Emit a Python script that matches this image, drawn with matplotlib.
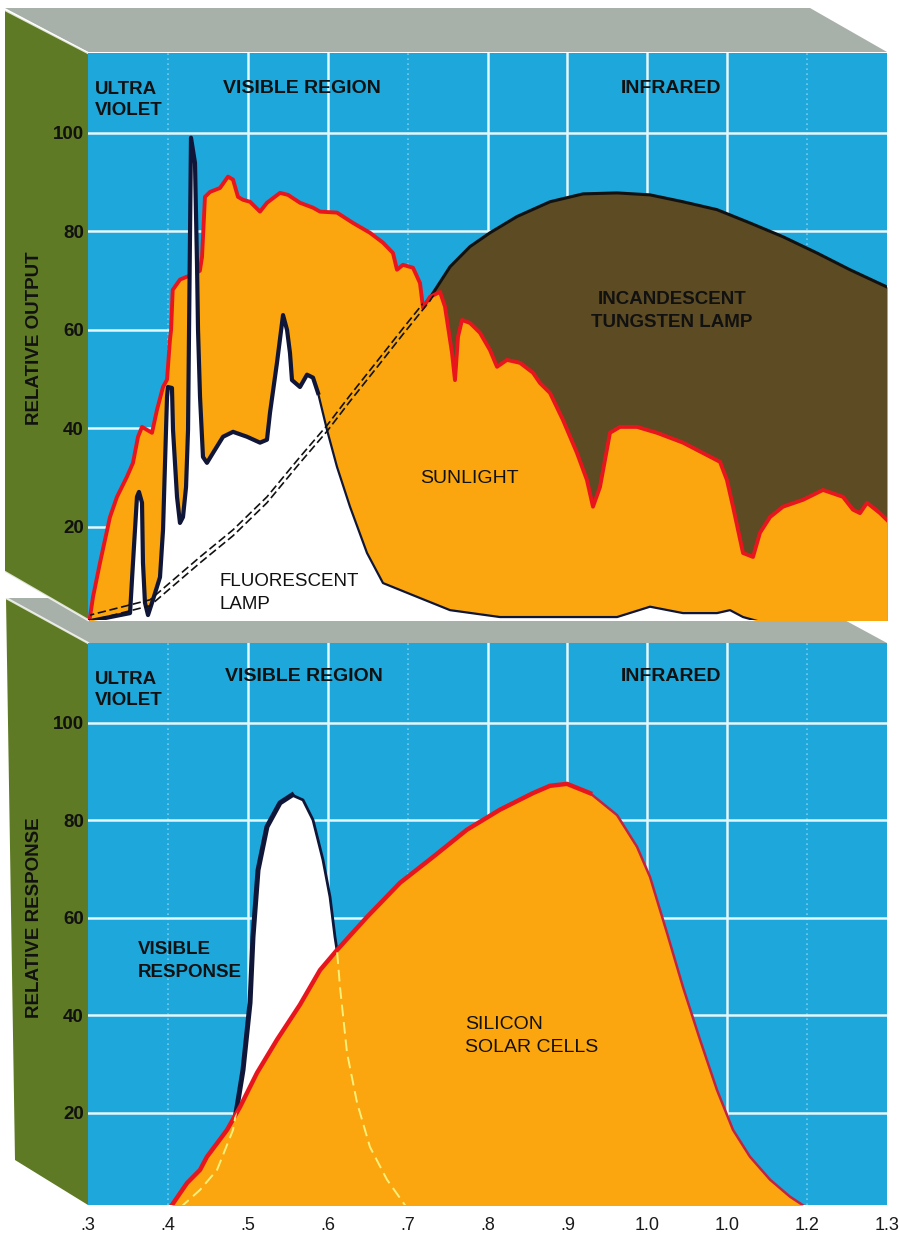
import numpy as np
import matplotlib.pyplot as plt
from matplotlib.patches import Polygon

plt.rcParams['font.family'] = ['Liberation Sans', 'DejaVu Sans']

# --- eixos ---
x_ticks = [0.3, 0.4, 0.5, 0.6, 0.7, 0.8, 0.9, 1.0, 1.1, 1.2, 1.3]
x_tick_labels = ['.3', '.4', '.5', '.6', '.7', '.8', '.9', '1.0', '1.0', '1.2', '1.3']
y_ticks = [20, 40, 60, 80, 100]
y_tick_labels = ['20', '40', '60', '80', '100']
grid_solid_x = [0.5, 0.6, 0.8, 0.9, 1.0, 1.1]
grid_dotted_x = [0.4, 0.7, 1.2]

# --- painel de cima: saida relativa ---
sun_x = [0.300, 0.3025, 0.3063, 0.3150, 0.3275, 0.3363, 0.3488, 0.3563, 0.3626, 0.3676,
         0.3738, 0.3801, 0.3864, 0.3939, 0.3989, 0.4026, 0.4040, 0.4060, 0.4151, 0.4239,
         0.4300, 0.4400, 0.4427, 0.4464, 0.4527, 0.4652, 0.4752, 0.4815, 0.4877, 0.4940,
         0.5028, 0.5153, 0.5240, 0.5403, 0.5503, 0.5653, 0.5816, 0.5904, 0.6116, 0.6317,
         0.6529, 0.6692, 0.6817, 0.6867, 0.6942, 0.7068, 0.7155, 0.7193, 0.7280, 0.7406,
         0.7468, 0.7556, 0.7593, 0.7631, 0.7681, 0.7781, 0.7906, 0.8031, 0.8119, 0.8244,
         0.8407, 0.8569, 0.8657, 0.8782, 0.8945, 0.9120, 0.9245, 0.9320, 0.9408, 0.9533,
         0.9658, 0.9871, 1.0121, 1.0447, 1.0697, 1.0910, 1.0997, 1.1073, 1.1198, 1.1323,
         1.1410, 1.1536, 1.1698, 1.1949, 1.2199, 1.2449, 1.2574, 1.2662, 1.2750, 1.2912,
         1.3000]
sun_y = [0.5, 1.7, 5.8, 12.7, 22.0, 26.1, 30.2, 33.0, 38.3, 40.3,
         39.7, 39.1, 43.8, 48.4, 49.9, 58.0, 60.0, 68.1, 70.2, 70.8,
         71.0, 72.0, 74.8, 87.0, 88.0, 88.8, 91.1, 90.5, 87.0, 86.4,
         86.0, 84.0, 85.8, 87.8, 87.4, 85.8, 84.8, 84.0, 83.8, 81.7,
         79.7, 77.7, 75.6, 72.2, 73.2, 72.6, 69.5, 64.5, 66.7, 67.7,
         64.7, 55.3, 49.8, 58.6, 62.0, 61.4, 59.4, 55.9, 52.5, 53.9,
         53.3, 51.3, 49.2, 47.2, 41.7, 35.0, 29.5, 24.1, 28.1, 39.1,
         40.3, 40.3, 39.1, 37.1, 35.0, 33.2, 29.5, 24.1, 14.7, 13.9,
         18.8, 22.0, 24.1, 25.5, 27.5, 26.1, 23.5, 22.8, 24.9, 22.8,
         21.4]

fluor_x = [0.300, 0.3526, 0.3563, 0.3613, 0.3638, 0.3676, 0.3688, 0.3713, 0.3751, 0.3813,
           0.3901, 0.3939, 0.3964, 0.3989, 0.4001, 0.4051, 0.4064, 0.4114, 0.4151, 0.4189,
           0.4227, 0.4252, 0.4289, 0.4339, 0.4364, 0.4377, 0.4402, 0.4439, 0.4489, 0.4564,
           0.4690, 0.4815, 0.4990, 0.5153, 0.5240, 0.5278, 0.5365, 0.5441, 0.5491, 0.5528,
           0.5553, 0.5653, 0.5741, 0.5816, 0.5879, 0.5991, 0.6116, 0.6279, 0.6492, 0.6692,
           0.7118, 0.7531, 0.8156, 0.9621, 1.0034, 1.0447, 1.0872, 1.1035, 1.1198, 1.1400]
fluor_y = [0.8, 2.5, 12.7, 26.1, 27.1, 24.9, 12.7, 4.6, 2.1, 5.2,
           9.8, 19.4, 33.0, 46.4, 48.4, 48.2, 39.7, 26.1, 20.8, 22.0,
           28.1, 39.7, 99.0, 93.9, 73.6, 60.0, 46.4, 34.2, 33.0, 35.0,
           38.3, 39.3, 38.3, 37.1, 37.7, 43.2, 53.3, 63.0, 60.0, 55.3,
           49.8, 48.4, 50.9, 50.3, 47.2, 39.7, 32.2, 24.1, 14.7, 8.6,
           5.8, 3.1, 1.7, 1.7, 3.8, 2.5, 2.5, 3.1, 1.7, 0.8]

tung_x = [0.300, 0.3025, 0.3776, 0.4402, 0.4815, 0.5240, 0.5653, 0.5991, 0.6279, 0.6617,
          0.6942, 0.7280, 0.7531, 0.7781, 0.8031, 0.8369, 0.8782, 0.9195, 0.9621, 1.0034,
          1.0447, 1.0872, 1.1285, 1.1698, 1.2124, 1.2537, 1.3000]
tung_y = [0.8, 1.5, 4.6, 13.3, 18.8, 25.5, 33.6, 40.0, 46.1, 53.0,
          59.7, 66.5, 72.8, 76.9, 79.7, 83.0, 86.0, 87.6, 87.8, 87.4,
          86.0, 84.4, 81.7, 78.9, 75.6, 72.2, 68.7]

# --- painel de baixo: resposta relativa ---
si_x = [0.4026, 0.4239, 0.4402, 0.4489, 0.4740, 0.4902, 0.5115, 0.5365, 0.5653, 0.5904,
        0.6116, 0.6492, 0.6905, 0.7318, 0.7743, 0.8156, 0.8569, 0.8782, 0.8995, 0.9283,
        0.9621, 0.9871, 1.0034, 1.0247, 1.0447, 1.0660, 1.0872, 1.1073, 1.1285, 1.1536,
        1.1786, 1.1999]
si_y = [0.5, 5.6, 8.3, 11.0, 16.5, 21.2, 28.2, 35.0, 42.2, 49.3,
        53.4, 60.2, 67.2, 72.5, 78.1, 82.2, 85.6, 87.1, 87.5, 85.6,
        81.1, 74.6, 68.4, 56.9, 45.8, 35.0, 24.7, 16.5, 11.0, 6.3,
        2.8, 0.5]

vis_x = [0.4151, 0.4402, 0.4615, 0.4815, 0.4865, 0.4940, 0.5028, 0.5065, 0.5128, 0.5240,
         0.5403, 0.5553, 0.5691, 0.5816, 0.5941, 0.6029, 0.6091, 0.6116, 0.6154, 0.6242,
         0.6367, 0.6529, 0.6742, 0.6992]
vis_y = [0.5, 4.2, 8.3, 16.5, 21.2, 28.8, 42.6, 56.1, 69.8, 78.7,
         83.6, 85.2, 84.2, 80.1, 71.9, 64.3, 56.1, 53.4, 45.8, 32.3,
         22.1, 13.0, 6.3, 0.5]

# cores
azul = '#1ea7da'
laranja = '#fba60e'
vermelho = '#e8161c'
marrom = '#5c4b23'
oliva = '#5f7a24'
cinza = '#a8b0aa'
grade = '#e2f7ff'
preto = '#111111'
marinho = '#0f1638'

fig = plt.figure(figsize=(8.99, 12.34), dpi=100)

# --- caixas em "3D" (faces de cima e lateral), em pixels ---
bg = fig.add_axes([0, 0, 1, 1], zorder=0)
bg.set_xlim(0, 899)
bg.set_ylim(1234, 0)
bg.axis('off')
faces = [
    ([(5, 8), (810, 8), (887, 52), (88, 52)], cinza),
    ([(5, 598), (804, 598), (887, 643), (88, 643)], cinza),
    ([(5, 10), (88, 53), (88, 620), (5, 572)], oliva),
    ([(6, 598), (88, 643), (88, 1205), (15, 1160)], oliva),
]
for pts, cor in faces:
    bg.add_patch(Polygon(pts, closed=True, facecolor=cor, edgecolor='none'))
for (xa, ya), (xb, yb) in [((5, 10), (88, 53)), ((5, 572), (88, 620)), ((6, 598), (88, 643))]:
    bg.plot([xa, xb], [ya, yb], color='white', lw=1.6, alpha=0.8)

ax1 = fig.add_axes([88/899, 1 - 620/1234, 799/899, 567/1234], zorder=2)
ax2 = fig.add_axes([88/899, 1 - 1205/1234, 799/899, 562/1234], zorder=2)

for ax in (ax1, ax2):
    ax.set_facecolor(azul)
    ax.set_xlim(0.3, 1.3)
    for s in ax.spines.values():
        s.set_visible(False)
    for gx in grid_solid_x:
        ax.axvline(gx, color=grade, lw=1.8, zorder=1)
    for gx in grid_dotted_x:
        ax.axvline(gx, color=grade, lw=1.2, ls=(0, (1, 2)), alpha=0.45, zorder=1)
    for gy in y_ticks:
        ax.axhline(gy, color=grade, lw=1.8, zorder=1)
    ax.set_yticks(y_ticks)
    ax.set_yticklabels(y_tick_labels, fontsize=13.5, fontweight='bold', color=preto)
    ax.tick_params(axis='y', length=0, pad=3)
    ax.text(0.3088, 106.7, 'ULTRA\nVIOLET', fontsize=13.5, fontweight='bold',
            color=preto, ha='left', va='center', linespacing=1.3, zorder=9)

ax1.set_ylim(1.1, 116.2)
ax2.set_ylim(1.1, 116.4)

# --- painel de cima ---
ax1.set_xticks([])
ax1.fill_between(tung_x, 0, tung_y, color=marrom, lw=0, zorder=2)
ax1.plot(tung_x, tung_y, color=preto, lw=2.2, zorder=3)
sol = ax1.fill_between(sun_x, 0, sun_y, color=laranja, lw=0, zorder=4)
ax1.plot(sun_x, sun_y, color=vermelho, lw=2.8, zorder=5, solid_joinstyle='round')
ax1.fill_between(fluor_x, 0, fluor_y, color='white', lw=0, zorder=6)
ax1.plot(fluor_x, fluor_y, color=marinho, lw=1.6, zorder=7, solid_joinstyle='round')
ax1.plot(fluor_x[:45], fluor_y[:45], color=marinho, lw=3.0, zorder=7, solid_joinstyle='round')

# continuacao tracejada dupla da lampada incandescente sob a luz do sol
path_sol = sol.get_paths()[0]
for dy in (-0.6, 0.6):
    ln, = ax1.plot(tung_x, np.array(tung_y) + dy, color=preto, lw=1.2,
                   dashes=(5, 2.2), zorder=8)
    ln.set_clip_path(path_sol, transform=ax1.transData)

ax1.text(0.4690, 108.9, 'VISIBLE REGION', fontsize=14, fontweight='bold', color=preto,
         ha='left', va='center', zorder=9)
ax1.text(0.9671, 108.9, 'INFRARED', fontsize=14, fontweight='bold', color=preto,
         ha='left', va='center', zorder=9)
ax1.text(1.0309, 63.9, 'INCANDESCENT\nTUNGSTEN LAMP', fontsize=13.5, fontweight='bold',
         color=preto, ha='center', va='center', linespacing=1.45, zorder=9)
ax1.text(0.7155, 29.9, 'SUNLIGHT', fontsize=14, color=preto, ha='left', va='center', zorder=9)
ax1.text(0.4640, 6.6, 'FLUORESCENT\nLAMP', fontsize=13.5, color=preto, ha='left',
         va='center', linespacing=1.45, zorder=9)

fig.text(35/899, 1 - 338/1234, 'RELATIVE OUTPUT', rotation=90, fontsize=13.5,
         fontweight='bold', color=preto, ha='center', va='center', zorder=9)

# --- painel de baixo ---
ax2.fill_between(vis_x, 0, vis_y, color='white', lw=0, zorder=2)
ax2.plot(vis_x, vis_y, color=marinho, lw=2.0, zorder=3, solid_joinstyle='round')
ax2.plot(vis_x[:12], vis_y[:12], color=marinho, lw=3.6, zorder=3, solid_joinstyle='round')
si = ax2.fill_between(si_x, 0, si_y, color=laranja, lw=0, zorder=4)
ax2.plot(si_x, si_y, color='#c42340', lw=1.8, zorder=5, solid_joinstyle='round')
ax2.plot(si_x[:20], si_y[:20], color=vermelho, lw=3.2, zorder=5, solid_joinstyle='round')
vl, = ax2.plot(vis_x, vis_y, color='#f6f07a', lw=1.4, dashes=(6, 3), zorder=6)
vl.set_clip_path(si.get_paths()[0], transform=ax2.transData)

ax2.set_xticks(x_ticks)
ax2.set_xticklabels(x_tick_labels, fontsize=13, color='#1a1a1a')
ax2.tick_params(axis='x', length=0, pad=9)

ax2.text(0.4715, 109.6, 'VISIBLE REGION', fontsize=14, fontweight='bold', color=preto,
         ha='left', va='center', zorder=9)
ax2.text(0.9671, 109.6, 'INFRARED', fontsize=14, fontweight='bold', color=preto,
         ha='left', va='center', zorder=9)
ax2.text(0.3626, 51.1, 'VISIBLE\nRESPONSE', fontsize=13.5, fontweight='bold', color=preto,
         ha='left', va='center', linespacing=1.45, zorder=9)
ax2.text(0.7718, 35.8, 'SILICON\nSOLAR CELLS', fontsize=14, color=preto, ha='left',
         va='center', linespacing=1.45, zorder=9)

fig.text(35/899, 1 - 918/1234, 'RELATIVE RESPONSE', rotation=90, fontsize=13.5,
         fontweight='bold', color=preto, ha='center', va='center', zorder=9)

fig.savefig('out.png', dpi=100, facecolor='white')
